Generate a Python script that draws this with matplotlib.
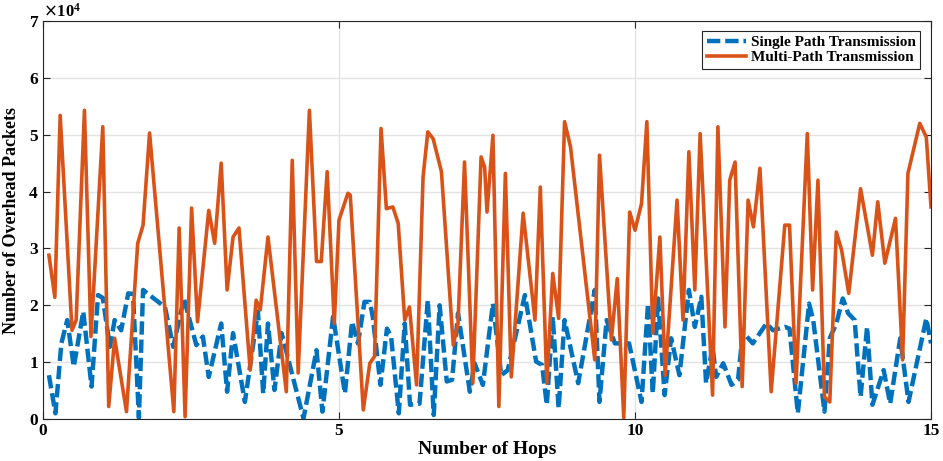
import matplotlib
matplotlib.use("Agg")
import matplotlib.pyplot as plt
from matplotlib.ticker import ScalarFormatter

# ---- data ----
single_x = [0.10, 0.21, 0.31, 0.41, 0.52, 0.68, 0.82, 0.93, 1.01, 1.13, 1.21, 1.32, 1.44, 1.52,
            1.62, 1.69, 1.86, 2.06, 2.20, 2.38, 2.59, 2.70, 2.80, 3.01, 3.11, 3.21, 3.41, 3.63,
            3.72, 3.80, 3.91, 4.03, 4.40, 4.62, 4.72, 4.90, 5.10, 5.22, 5.32, 5.43, 5.52, 5.57,
            5.70, 5.81, 5.88, 6.01, 6.11, 6.20, 6.36, 6.50, 6.60, 6.70, 6.82, 6.91, 7.01, 7.21,
            7.29, 7.43, 7.60, 7.74, 7.85, 8.14, 8.33, 8.43, 8.51, 8.61, 8.71, 8.81, 9.04, 9.32,
            9.40, 9.52, 9.66, 9.90, 10.11, 10.22, 10.30, 10.39, 10.50, 10.61, 10.75, 10.91,
            11.01, 11.12, 11.20, 11.31, 11.37, 11.49, 11.63, 11.74, 11.82, 11.99, 12.22, 12.33,
            12.53, 12.61, 12.75, 12.94, 13.01, 13.20, 13.29, 13.40, 13.51, 13.60, 13.71, 13.81,
            13.92, 14.01, 14.20, 14.31, 14.48, 14.62, 14.92, 15.00]
single_y = [7700, 1000, 13300, 17400, 9200, 18900, 5700, 21800, 21300, 12700, 17400, 15600, 22100, 22000,
            200, 22700, 21300, 19700, 12700, 21200, 13000, 14500, 7400, 16800, 4800, 15100, 3000, 18900,
            4500, 16800, 5100, 15100, 100, 12100, 1300, 18000, 4500, 17100, 13300, 20600, 20600, 18000,
            6000, 15900, 14500, 1000, 16800, 2500, 2700, 20900, 700, 20000, 6600, 6900, 18600, 4800,
            9800, 6000, 20300, 7700, 8600, 21800, 10100, 9500, 2500, 18000, 1900, 17400, 6300, 22700,
            3000, 17400, 13300, 13300, 3000, 20300, 4500, 21200, 4200, 14200, 7700, 22700,
            16200, 21500, 6300, 12700, 7400, 9800, 6000, 6900, 15300, 13300, 16800, 15600,
            16200, 15900, 1000, 20300, 17400, 1300, 14200, 16800, 21200, 18600, 17400, 3900,
            16200, 2500, 8600, 2700, 14200, 3000, 17700, 13300]

multi_x = [0.10, 0.20, 0.29, 0.49, 0.56, 0.70, 0.81, 1.01, 1.11, 1.21, 1.41, 1.60, 1.69, 1.80,
           2.21, 2.30, 2.40, 2.51, 2.61, 2.80, 2.90, 3.01, 3.11, 3.21, 3.31, 3.50, 3.60, 3.67,
           3.80, 4.11, 4.21, 4.31, 4.50, 4.62, 4.70, 4.80, 4.92, 5.00, 5.15, 5.19, 5.41, 5.52,
           5.60, 5.71, 5.80, 5.91, 6.00, 6.11, 6.19, 6.31, 6.42, 6.50, 6.59, 6.73, 6.93, 7.01,
           7.12, 7.26, 7.40, 7.46, 7.50, 7.60, 7.70, 7.81, 7.91, 8.11, 8.31, 8.40, 8.51, 8.61,
           8.71, 8.81, 8.91, 9.32, 9.40, 9.60, 9.70, 9.81, 9.91, 10.00, 10.11, 10.20, 10.30,
           10.42, 10.51, 10.71, 10.81, 10.91, 11.01, 11.10, 11.31, 11.40, 11.52, 11.60, 11.69,
           11.81, 11.91, 12.00, 12.11, 12.30, 12.53, 12.61, 12.72, 12.91, 13.00, 13.09, 13.20,
           13.29, 13.40, 13.49, 13.61, 13.81, 14.01, 14.10, 14.22, 14.40, 14.52, 14.61, 14.81,
           14.92, 15.00]
multi_y = [28800, 21400, 53400, 15600, 17400, 54300, 14500, 51400, 2200, 14200, 1300, 30900, 34100, 50300,
           1300, 33600, 400, 37100, 17100, 36700, 30900, 45000, 22700, 32000, 33600, 8600, 20900, 19200,
           32000, 4800, 45500, 8100, 54300, 27700, 27700, 43500, 16800, 35000, 39700, 39400, 1600, 9800,
           11000, 51100, 37000, 37300, 34400, 17400, 19700, 6000, 42600, 50500, 49300, 43500, 13000, 16800,
           45200, 6300, 46100, 44300, 36400, 49900, 2200, 43200, 7400, 36200, 17400, 40800, 6300, 25600,
           17700, 52300, 47900, 10400, 46400, 13900, 24700, 200, 36400, 33200, 37900, 52300, 15100,
           32000, 7700, 38500, 17400, 47000, 22700, 50200, 4200, 51400, 16200, 42000, 45200,
           5700, 38500, 33800, 44100, 4800, 34100, 34100, 6300, 50200, 22700, 42000, 3900,
           3000, 32900, 29700, 22100, 40500, 28800, 38200, 27400, 35300, 10400, 43200, 52000,
           49600, 37300]

x_ticks = [0, 5, 10, 15]
y_ticks = [0, 10000, 20000, 30000, 40000, 50000, 60000, 70000]

blue = "#0072BD"
orange = "#D95319"
serif = ["Liberation Serif", "DejaVu Serif"]

fig = plt.figure(figsize=(9.43, 4.61), dpi=100)
ax = fig.add_axes([0.0456, 0.0911, 0.9417, 0.8633])

ax.plot(single_x, single_y, color=blue, lw=3.2, ls=(0, (3.0, 1.1)),
        label="Single Path Transmission", zorder=3)
ax.plot(multi_x, multi_y, color=orange, lw=2.6, label="Multi-Path Transmission", zorder=3)

ax.set_xlim(0, 15)
ax.set_ylim(0, 70000)
ax.set_xticks(x_ticks)
ax.set_yticks(y_ticks)

fmt = ScalarFormatter(useMathText=True)
fmt.set_powerlimits((0, 0))
ax.yaxis.set_major_formatter(fmt)

ax.grid(True, color="#e3e3e3", lw=1.0, zorder=0)
ax.set_axisbelow(True)
ax.tick_params(direction="in", top=True, right=True, length=5, width=0.8,
               colors="#262626", labelcolor="black", pad=3)
for lab in ax.get_xticklabels() + ax.get_yticklabels():
    lab.set_fontfamily(serif)
    lab.set_fontweight("bold")
    lab.set_fontsize(12.5)
for s in ax.spines.values():
    s.set_color("#262626")
    s.set_linewidth(0.8)

off = ax.yaxis.get_offset_text()
off.set_fontfamily(serif)
off.set_fontsize(12)
off.set_fontweight("bold")

ax.set_xlabel("Number of Hops", fontfamily=serif, fontweight="bold", fontsize=14, labelpad=1)
ax.set_ylabel("Number of Overhead Packets", fontfamily=serif, fontweight="bold", fontsize=13, labelpad=6)

leg = ax.legend(loc="upper right", bbox_to_anchor=(0.988, 0.975), fancybox=False, framealpha=1,
                edgecolor="#262626", prop={"family": serif, "weight": "bold", "size": 11},
                handlelength=2.6, borderpad=0.3, labelspacing=0.1, handletextpad=0.3,
                borderaxespad=0.0)
leg.get_frame().set_linewidth(0.8)

fig.savefig("out.png", dpi=100)
